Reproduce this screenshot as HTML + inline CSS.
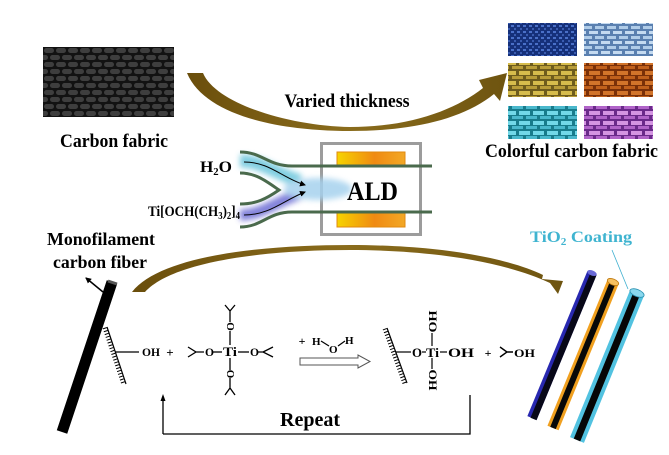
<!DOCTYPE html>
<html><head><meta charset="utf-8"><style>
html,body{margin:0;padding:0;background:#fff;}
svg{display:block;}
text{font-family:"Liberation Serif",serif;font-weight:bold;}
</style></head><body>
<svg width="669" height="455" viewBox="0 0 669 455" xmlns="http://www.w3.org/2000/svg">
<defs>
<pattern id="cf" width="12" height="14" patternUnits="userSpaceOnUse" x="43" y="47">
<rect width="12" height="14" fill="#121212"/>
<rect x="1" y="1" width="10" height="5" rx="2.5" fill="#3e3e3e"/>
<rect x="-5" y="8" width="10" height="5" rx="2.5" fill="#3e3e3e"/>
<rect x="7" y="8" width="10" height="5" rx="2.5" fill="#3e3e3e"/>
</pattern>
<pattern id="p1" width="6" height="6" patternUnits="userSpaceOnUse">
<rect width="6" height="6" fill="#15307a"/><rect x="1" y="1" width="3" height="2" fill="#4a70c8"/><rect x="4" y="4" width="3" height="2" fill="#3a5cb0"/>
</pattern>
<pattern id="p2" width="12" height="10" patternUnits="userSpaceOnUse">
<rect width="12" height="10" fill="#5a80b0"/><rect x="1" y="1" width="9" height="3" fill="#c4daf0"/><rect x="7" y="6" width="9" height="3" fill="#b0cce8"/><rect x="-5" y="6" width="9" height="3" fill="#b0cce8"/>
</pattern>
<pattern id="p3" width="14" height="10" patternUnits="userSpaceOnUse">
<rect width="14" height="10" fill="#6e5c1c"/><rect x="1" y="1" width="11" height="4" fill="#d6bc4c"/><rect x="8" y="6" width="11" height="3" fill="#b89c38"/><rect x="-6" y="6" width="11" height="3" fill="#b89c38"/>
</pattern>
<pattern id="p4" width="14" height="10" patternUnits="userSpaceOnUse">
<rect width="14" height="10" fill="#7a3008"/><rect x="1" y="1" width="11" height="4" fill="#d2742a"/><rect x="8" y="6" width="11" height="3" fill="#c0601c"/><rect x="-6" y="6" width="11" height="3" fill="#c0601c"/>
</pattern>
<pattern id="p5" width="14" height="10" patternUnits="userSpaceOnUse">
<rect width="14" height="10" fill="#187c8c"/><rect x="1" y="1" width="11" height="4" fill="#72d8e8"/><rect x="8" y="6" width="11" height="3" fill="#4ab8cc"/><rect x="-6" y="6" width="11" height="3" fill="#4ab8cc"/>
</pattern>
<pattern id="p6" width="14" height="10" patternUnits="userSpaceOnUse">
<rect width="14" height="10" fill="#6a2a8a"/><rect x="1" y="1" width="11" height="4" fill="#d494e2"/><rect x="8" y="6" width="11" height="3" fill="#b064c8"/><rect x="-6" y="6" width="11" height="3" fill="#b064c8"/>
</pattern>
<linearGradient id="org" x1="0" y1="0" x2="1" y2="0">
<stop offset="0" stop-color="#f6d400"/><stop offset="0.55" stop-color="#f08a12"/><stop offset="1" stop-color="#f2a826"/>
</linearGradient>
<linearGradient id="brn" x1="0" y1="0" x2="1" y2="0">
<stop offset="0" stop-color="#6a4e0c"/><stop offset="0.5" stop-color="#8a6c1c"/><stop offset="1" stop-color="#6e5410"/>
</linearGradient>
<filter id="bl" x="-50%" y="-50%" width="200%" height="200%"><feGaussianBlur stdDeviation="3"/></filter>
<marker id="ah" markerWidth="6" markerHeight="6" refX="5" refY="3" orient="auto" markerUnits="userSpaceOnUse">
<path d="M0,0 L6,3 L0,6 Z" fill="#000"/>
</marker>
</defs>

<!-- Carbon fabric -->
<rect x="43" y="47" width="131" height="70" fill="url(#cf)"/>
<text x="114" y="147" font-size="19" text-anchor="middle" textLength="108" lengthAdjust="spacingAndGlyphs">Carbon fabric</text>

<!-- top arrow -->
<path d="M187,73 L203,73 C 216,104 290,126 350,127 C 410,127 455,110 483,88 L 479,80 L 507,73 L 500,101 L 494,94 C 462,120 410,131 350,131 C 280,131 205,116 187,73 Z" fill="url(#brn)"/>
<text x="347" y="107" font-size="19" text-anchor="middle" textLength="125" lengthAdjust="spacingAndGlyphs">Varied thickness</text>

<!-- colorful fabrics -->
<rect x="508" y="23" width="69" height="33" fill="url(#p1)"/>
<rect x="584" y="23" width="69" height="33" fill="url(#p2)"/>
<rect x="508" y="63" width="69" height="34" fill="url(#p3)"/>
<rect x="584" y="63" width="69" height="34" fill="url(#p4)"/>
<rect x="508" y="106" width="69" height="33" fill="url(#p5)"/>
<rect x="584" y="106" width="69" height="33" fill="url(#p6)"/>
<text x="571.5" y="157" font-size="19" text-anchor="middle" textLength="173" lengthAdjust="spacingAndGlyphs">Colorful carbon fabric</text>

<!-- ALD -->
<rect x="321.5" y="143.5" width="99" height="91" fill="none" stroke="#9c9c9c" stroke-width="3"/>
<rect x="337" y="152" width="68" height="13" fill="url(#org)" stroke="#e08a10" stroke-width="1"/>
<rect x="337" y="213" width="68" height="14" fill="url(#org)" stroke="#e08a10" stroke-width="1"/>
<g filter="url(#bl)" opacity="0.85">
<path d="M240,161 C 262,161 272,172 300,181" stroke="#6cc6dc" stroke-width="13" fill="none"/>
<path d="M240,215 C 262,215 275,202 300,194" stroke="#6c6cd4" stroke-width="11" fill="none"/>
<ellipse cx="318" cy="189" rx="34" ry="11" fill="#a6d2ee"/>
</g>
<path d="M240,152 C 262,152 268,166 292,166 L 432,166" fill="none" stroke="#4a6a4c" stroke-width="3"/>
<path d="M240,227 C 262,227 268,212 292,212 L 432,212" fill="none" stroke="#4a6a4c" stroke-width="3"/>
<path d="M240,173 C 256,173 266,181 279,190 C 266,199 256,204 240,204" fill="none" stroke="#4a6a4c" stroke-width="3"/>
<path d="M244,162 C 270,162 282,178 305,185" fill="none" stroke="#000" stroke-width="1" marker-end="url(#ah)"/>
<path d="M244,215 C 270,215 284,200 305,192" fill="none" stroke="#000" stroke-width="1" marker-end="url(#ah)"/>
<text x="347" y="200" font-size="26" textLength="51" lengthAdjust="spacingAndGlyphs">ALD</text>
<text x="200" y="172" font-size="16" textLength="32" lengthAdjust="spacingAndGlyphs">H<tspan font-size="10" dy="3">2</tspan><tspan dy="-3">O</tspan></text>
<text x="148" y="216" font-size="15" textLength="92" lengthAdjust="spacingAndGlyphs">Ti[OCH(CH<tspan font-size="10" dy="3">3</tspan><tspan dy="-3">)</tspan><tspan font-size="10" dy="3">2</tspan><tspan dy="-3">]</tspan><tspan font-size="10" dy="3">4</tspan></text>

<!-- bottom arrow -->
<path d="M132,292 C 160,256 260,245 350,245 C 440,245 508,258 543,275 L 542,279 L 563,281 L 558,294 L 550,283 C 510,264 440,250 350,250 C 262,250 172,262 145,292 Z" fill="url(#brn)"/>

<!-- Monofilament -->
<text x="101" y="245" font-size="18" text-anchor="middle" textLength="108" lengthAdjust="spacingAndGlyphs">Monofilament</text>
<text x="100" y="268" font-size="18" text-anchor="middle" textLength="94" lengthAdjust="spacingAndGlyphs">carbon fiber</text>
<line x1="112" y1="282" x2="62" y2="432" stroke="#000" stroke-width="11"/>
<line x1="108" y1="281" x2="117" y2="284" stroke="#555" stroke-width="3"/>
<line x1="103" y1="292" x2="86" y2="278" stroke="#000" stroke-width="1.5" marker-end="url(#ah)"/>

<!-- reactant surface -->
<line x1="107" y1="327" x2="126" y2="384" stroke="#000" stroke-width="1.2"/>
<line x1="104.6" y1="327.8" x2="123.6" y2="384.8" stroke="#000" stroke-width="4" stroke-dasharray="1 2"/>
<line x1="115" y1="352" x2="139" y2="352" stroke="#000" stroke-width="1.2"/>
<text x="142" y="356" font-size="12" textLength="18" lengthAdjust="spacingAndGlyphs">OH</text>
<text x="170" y="357" font-size="13" text-anchor="middle">+</text>

<!-- Ti precursor -->
<g stroke="#000" stroke-width="1.3" fill="none">
<path d="M188,347 L196,352 L188,357 M196,352 L204,352"/>
<line x1="213" y1="352" x2="222" y2="352"/>
<line x1="238" y1="352" x2="249" y2="352"/>
<path d="M258,352 L263,352 M273,347 L263,352 L273,357"/>
<path d="M225,305 L230,311 L235,305 M230,311 L230,322"/>
<line x1="230" y1="331" x2="230" y2="345"/>
<line x1="230" y1="358" x2="230" y2="370"/>
<path d="M230,378 L230,388 M225,395 L230,388 L235,395"/>
</g>
<text x="205" y="356" font-size="12" textLength="9" lengthAdjust="spacingAndGlyphs">O</text>
<text x="223" y="356" font-size="13" textLength="14" lengthAdjust="spacingAndGlyphs">Ti</text>
<text x="250" y="356" font-size="12" textLength="9" lengthAdjust="spacingAndGlyphs">O</text>
<text transform="translate(234,326.5) rotate(-90)" font-size="11" text-anchor="middle">O</text>
<text transform="translate(234,374) rotate(-90)" font-size="11" text-anchor="middle">O</text>

<!-- water -->
<text x="302" y="345" font-size="12" text-anchor="middle">+</text>
<text x="312" y="345" font-size="11">H</text>
<line x1="321" y1="341" x2="329" y2="346" stroke="#000" stroke-width="1.2"/>
<text x="329" y="353" font-size="11">O</text>
<line x1="338" y1="346" x2="345" y2="341" stroke="#000" stroke-width="1.2"/>
<text x="345" y="344" font-size="11">H</text>
<polygon points="300,358 358,358 358,355 370,361.5 358,368 358,365 300,365" fill="#fff" stroke="#555" stroke-width="1"/>

<!-- product -->
<line x1="387" y1="328" x2="407" y2="383" stroke="#000" stroke-width="1.2"/>
<line x1="384.6" y1="328.8" x2="404.6" y2="383.8" stroke="#000" stroke-width="4" stroke-dasharray="1 2"/>
<line x1="396" y1="352" x2="411" y2="352" stroke="#000" stroke-width="1.2"/>
<text x="412" y="357" font-size="13" textLength="10" lengthAdjust="spacingAndGlyphs">O</text>
<line x1="422" y1="352" x2="426" y2="352" stroke="#000" stroke-width="1.2"/>
<text x="426" y="357" font-size="13" textLength="13" lengthAdjust="spacingAndGlyphs">Ti</text>
<line x1="440" y1="352" x2="447" y2="352" stroke="#000" stroke-width="1.2"/>
<text x="448" y="357" font-size="13" textLength="26" lengthAdjust="spacingAndGlyphs">OH</text>
<line x1="432" y1="333" x2="432" y2="346" stroke="#000" stroke-width="1.2"/>
<line x1="432" y1="358" x2="432" y2="369" stroke="#000" stroke-width="1.2"/>
<text transform="translate(436.5,321.5) rotate(-90)" font-size="12" text-anchor="middle" textLength="22" lengthAdjust="spacingAndGlyphs">OH</text>
<text transform="translate(436.5,380) rotate(-90)" font-size="12" text-anchor="middle" textLength="21" lengthAdjust="spacingAndGlyphs">HO</text>
<text x="488" y="357" font-size="12" text-anchor="middle">+</text>
<path d="M500,347 L507,352 L500,357 M507,352 L513,352" stroke="#000" stroke-width="1.4" fill="none"/>
<text x="514" y="357" font-size="12" textLength="21" lengthAdjust="spacingAndGlyphs">OH</text>

<!-- Repeat -->
<path d="M163,434 L163,400 M470,395 L470,434 L163,434" stroke="#000" stroke-width="1.3" fill="none"/>
<path d="M160.5,401 L163,394 L165.5,401 Z" fill="#000"/>
<text x="310" y="426" font-size="20" text-anchor="middle" textLength="60" lengthAdjust="spacingAndGlyphs">Repeat</text>

<!-- coated fibers -->
<line x1="592" y1="273" x2="532" y2="418" stroke="#2828b0" stroke-width="10"/>
<line x1="593.5" y1="274" x2="533.5" y2="419" stroke="#080818" stroke-width="6.5"/>
<ellipse cx="592" cy="273" rx="5" ry="2.5" transform="rotate(22 592 273)" fill="#6a6ad8"/>
<line x1="613" y1="282" x2="553" y2="428" stroke="#f0a020" stroke-width="12"/>
<line x1="613" y1="282" x2="553" y2="428" stroke="#080808" stroke-width="6"/>
<ellipse cx="613" cy="282" rx="6" ry="3" transform="rotate(22 613 282)" fill="#f6c060" stroke="#c07a10" stroke-width="0.8"/>
<line x1="637" y1="293" x2="577" y2="440" stroke="#52c2e0" stroke-width="15"/>
<line x1="637" y1="293" x2="577" y2="440" stroke="#060606" stroke-width="7"/>
<ellipse cx="637" cy="293" rx="7.5" ry="3.5" transform="rotate(22 637 293)" fill="#8ad8ee" stroke="#2a90b0" stroke-width="0.8"/>
<line x1="612" y1="250" x2="628" y2="289" stroke="#40b0d0" stroke-width="0.8"/>
<text x="530" y="242" font-size="16" fill="#3fb4d0" textLength="102" lengthAdjust="spacingAndGlyphs">TiO<tspan font-size="10" dy="3">2</tspan><tspan dy="-3"> Coating</tspan></text>
</svg>
</body></html>
